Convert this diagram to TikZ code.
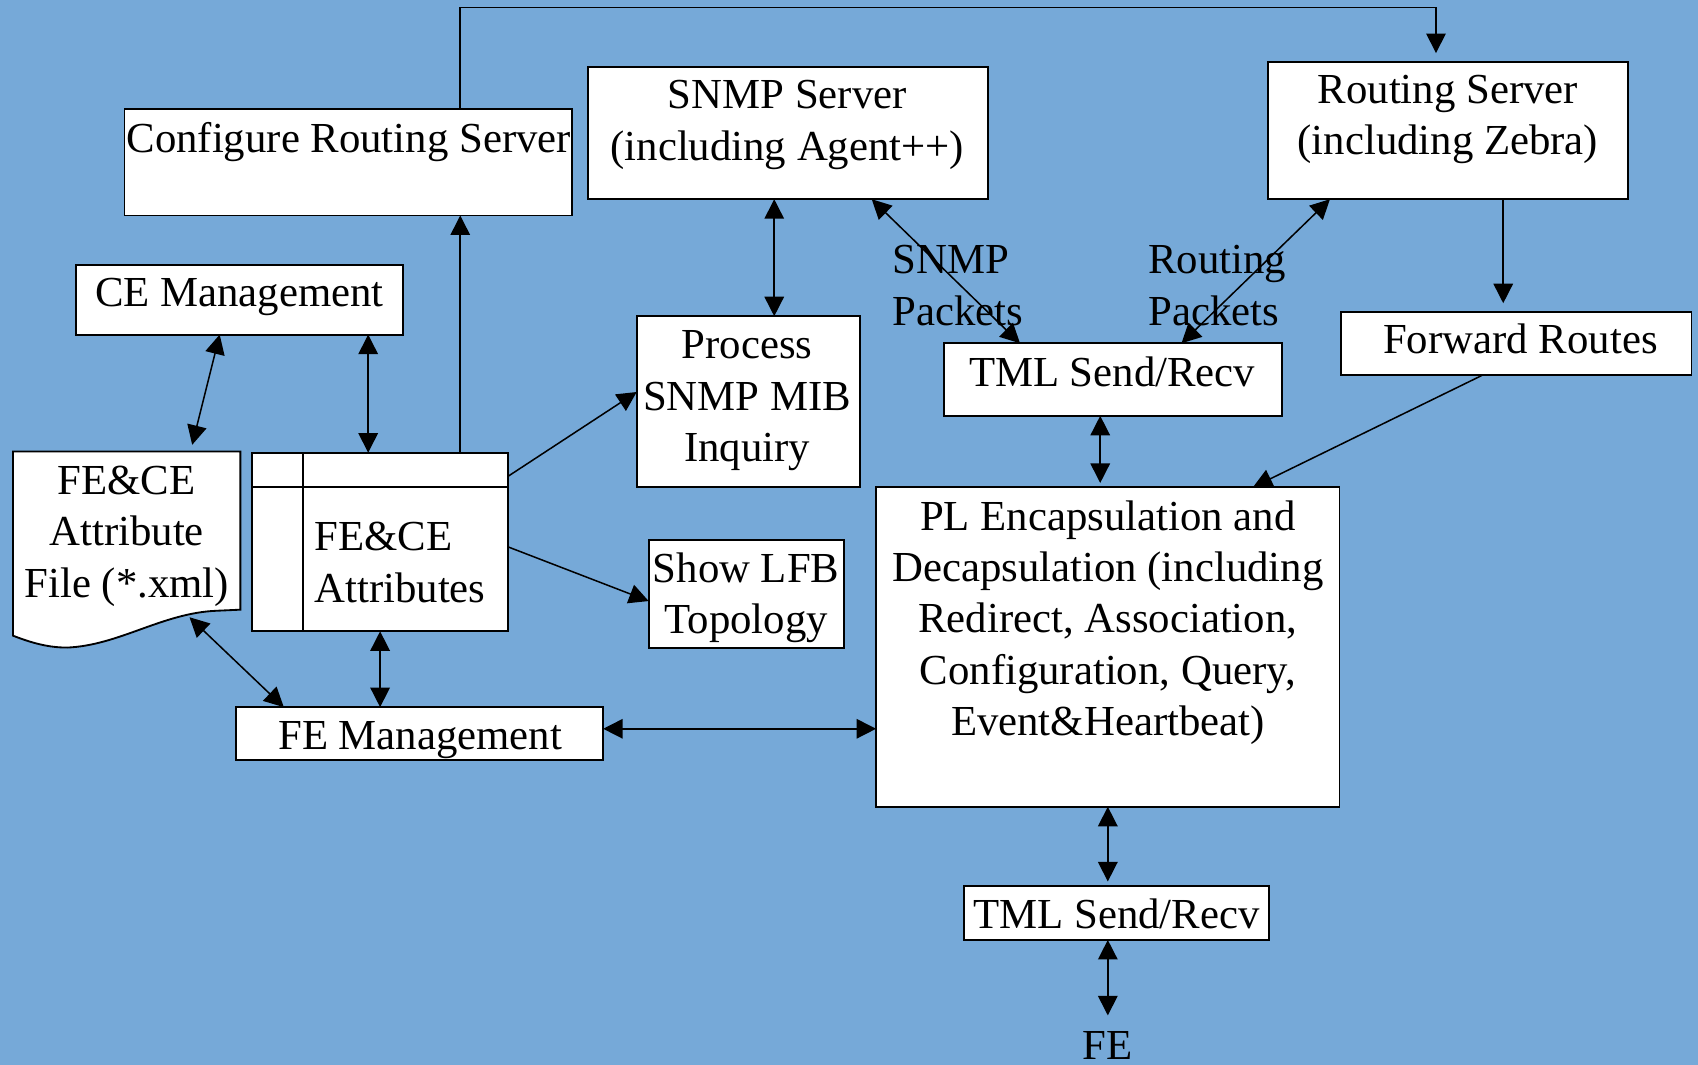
\documentclass[tikz,border=0pt]{standalone}
\usepackage{fontspec}
\setmainfont{Liberation Serif}
\usetikzlibrary{arrows.meta,calc}
\definecolor{bg}{RGB}{118,169,216}
\begin{document}
\begin{tikzpicture}[x=0.5pt,y=-0.5pt,
  box/.style={draw,fill=white,line width=0.85pt,inner sep=0pt,outer sep=0pt},
  txt/.style={align=center,inner sep=0pt,font=\fontsize{19.75}{23.75}\selectfont},
  con/.style={line width=0.7pt},
  dbl/.style={con,{Triangle[length=9pt,width=9pt]}-{Triangle[length=9pt,width=9pt]}},
  one/.style={con,-{Triangle[length=9pt,width=9pt]}}]
\fill[bg] (0,0) rectangle (1568,983);
\useasboundingbox (0,0) rectangle (1568,983);
% boxes
\node[box,minimum width=206.5pt,minimum height=49pt] (crs) at (321.5,150) {};
\node[box,minimum width=184.5pt,minimum height=61pt] (snmp) at (727.5,123) {};
\node[box,minimum width=166pt,minimum height=63.5pt] (rs) at (1337,120.5) {};
\node[box,minimum width=151pt,minimum height=32pt] (ce) at (221,277) {};
\node[box,minimum width=103pt,minimum height=79pt] (proc) at (691,371) {};
\node[box,minimum width=156pt,minimum height=33.5pt] (tml1) at (1028,350.5) {};
\node[box,minimum width=162pt,minimum height=29pt] (fr) at (1400,317) {};
\node[box,minimum width=118pt,minimum height=82.5pt] (attr) at (351,500.5) {};
\node[box,minimum width=90pt,minimum height=49.5pt] (lfb) at (689,548.5) {};
\node[box,minimum width=169.5pt,minimum height=24.5pt] (fem) at (387.5,677.5) {};
\node[box,minimum width=214pt,minimum height=147.5pt] (pl) at (1023,597.5) {};
\node[box,minimum width=141pt,minimum height=25pt] (tml2) at (1031,843) {};
% document shape
\draw[line width=0.85pt,fill=white] (12,417) -- (222,417) -- (222,563) -- (200,564)
  .. controls (150,566) and (110,596) .. (62,598)
  .. controls (45,598) and (30,594) .. (12,587) -- cycle;
\node[inner sep=0pt,minimum width=105pt,minimum height=90.5pt] (doc) at (117,507.5) {};
% table lines
\draw[line width=0.85pt] ([yshift=-16pt]attr.north west) -- ([yshift=-16pt]attr.north east);
\draw[line width=0.85pt] ([xshift=23.5pt]attr.north west) -- ([xshift=23.5pt]attr.south west);
% texts
\node[txt] (crsT) at (322,131) {Configure Routing Server};
\node[txt] (snmpT) at (727,115.5) {SNMP Server\\(including Agent++)};
\node[txt] (rsT) at (1337,110.5) {Routing Server\\(including Zebra)};
\node[txt] (ceT) at (221,274) {CE Management};
\node[txt] (procT) at (690,370) {Process\\SNMP MIB\\Inquiry};
\node[txt] (tml1T) at (1027,343) {TML Send/Recv};
\node[txt] (frT) at (1404,313) {Forward Routes};
\node[txt] (docT) at (117,495) {FE\&CE\\Attribute\\File (*.xml)};
\node[txt,align=left,anchor=west] (attrT) at (290,519.5) {FE\&CE\\Attributes};
\node[txt] (lfbT) at (689,552) {Show LFB\\Topology};
\node[txt] (femT) at (388,683) {FE Management};
\node[txt] (plT) at (1023,575) {PL Encapsulation and\\Decapsulation (including\\Redirect, Association,\\Configuration, Query,\\Event\&Heartbeat)};
\node[txt] (tml2T) at (1031,844) {TML Send/Recv};
\node[txt] (fe) at (1023,965) {FE};
\node[txt,align=left,anchor=west] (snmpL) at (824,263.5) {SNMP\\Packets};
\node[txt,align=left,anchor=west] (rtL) at (1060,263.5) {Routing\\Packets};
% connectors
\coordinate (crsN) at ($(crs.north west)!0.7506!(crs.north east)$);
\coordinate (rsN) at ($(rs.north west)!0.467!(rs.north east)$);
\coordinate (topY) at (0,7);
\draw[one,shorten >=4pt] (crsN) -- (crsN |- topY) -| (rsN);
\coordinate (attrN) at ($(attr.north west)!0.8136!(attr.north east)$);
\draw[one] (attrN) -- (attrN |- crs.south);
\draw[dbl,shorten >=3pt] ($(ce.south west)!0.44!(ce.south east)$) -- ($(doc.north west)!0.78!(doc.north east)$);
\coordinate (ceS) at ($(ce.south west)!0.894!(ce.south east)$);
\draw[dbl] (ceS) -- (ceS |- attr.north);
\draw[one] ($(attr.north east)!0.133!(attr.south east)$) -- ($(proc.north west)!0.443!(proc.south west)$);
\draw[one] ($(attr.north east)!0.527!(attr.south east)$) -- ($(lfb.north west)!0.566!(lfb.south west)$);
\draw[dbl] (attr.south) -- (attr.south |- fem.north);
\coordinate (docB) at (175,570);
\draw[dbl] (docB) -- ($(fem.north west)!0.13!(fem.north east)$);
\coordinate (femE) at ($(fem.north east)!0.408!(fem.south east)$);
\draw[dbl] (femE) -- (femE -| pl.west);
\coordinate (snmpS) at ($(snmp.south west)!0.466!(snmp.south east)$);
\draw[dbl] (snmpS) -- (snmpS |- proc.north);
\draw[dbl] ($(snmp.south west)!0.71!(snmp.south east)$) -- ($(tml1.north west)!0.224!(tml1.north east)$);
\draw[dbl] ($(rs.south west)!0.172!(rs.south east)$) -- ($(tml1.north west)!0.702!(tml1.north east)$);
\coordinate (rsS) at ($(rs.south west)!0.654!(rs.south east)$);
\draw[one,shorten >=4pt] (rsS) -- (rsS |- fr.north);
\draw[one] ($(fr.south west)!0.407!(fr.south east)$) -- ($(pl.north west)!0.813!(pl.north east)$);
\coordinate (tml1S) at ($(tml1.south west)!0.4615!(tml1.south east)$);
\draw[dbl,shorten >=2pt] (tml1S) -- (tml1S |- pl.north);
\draw[dbl,shorten >=2pt] (pl.south) -- (pl.south |- tml2.north);
\draw[dbl,shorten >=7pt] (fe.north |- tml2.south) -- (fe.north);
\end{tikzpicture}
\end{document}
